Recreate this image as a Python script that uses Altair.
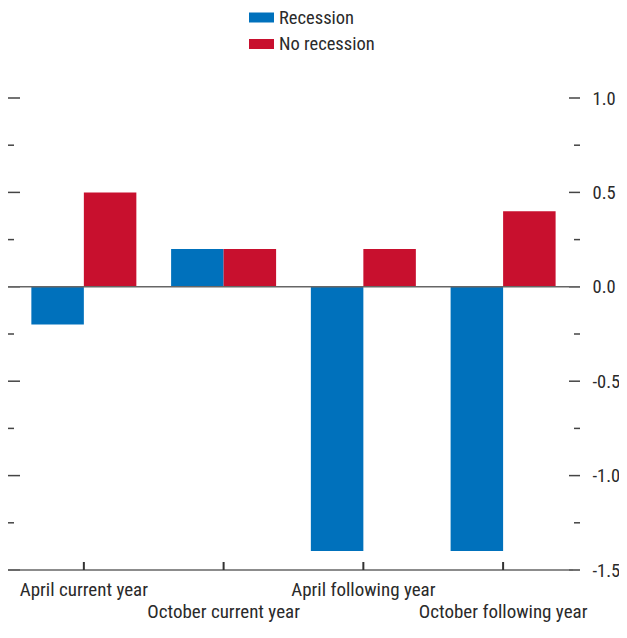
import altair as alt
import pandas as pd

categories = ["April current year", "October current year",
              "April following year", "October following year"]
series = ["Recession", "No recession"]
recession = [-0.2, 0.2, -1.4, -1.4]
no_recession = [0.5, 0.2, 0.2, 0.4]
major_ticks = [-1.5, -1.0, -0.5, 0.0, 0.5, 1.0]
minor_ticks = [-1.25, -0.75, -0.25, 0.25, 0.75]
zero_line = [0.0]
colors = ["#0071BC", "#C8102E"]

rows = []
for c, r, n in zip(categories, recession, no_recession):
    rows.append({"category": c, "series": series[0], "value": r})
    rows.append({"category": c, "series": series[1], "value": n})
bars_df = pd.DataFrame(rows)
cat_df = pd.DataFrame({"category": categories})
major_df = pd.DataFrame({"value": major_ticks})
minor_df = pd.DataFrame({"value": minor_ticks})
zero_df = pd.DataFrame({"value": zero_line})

W, H = 572, 472
FONT = "Liberation Sans Narrow, Arial Narrow, Roboto Condensed, Liberation Sans, sans-serif"
TICK = "#444444"
TXT = "#2a2a2a"

xscale = alt.Scale(domain=categories, paddingInner=0, paddingOuter=0.0465, align=0.46)
xaxis = alt.Axis(title=None, domain=False, ticks=False, grid=False, labelAngle=0,
                 labelFontSize=19, labelColor=TXT, labelPadding=10,
                 labelLineHeight=22, labelBaseline="top", labelLimit=400,
                 labelFont=FONT,
                 labelExpr="indexof(datum.label, 'October') == 0 ? ['', datum.label] : datum.label")
yscale = alt.Scale(domain=[-1.5, 1.0], nice=False, zero=False)
yaxis = alt.Axis(title=None, orient="right", values=major_ticks, ticks=False, domain=False,
                 grid=False, labelPadding=12, labelFontSize=18.5, labelColor=TXT,
                 labelFont=FONT,
                 labelExpr="datum.value < 0 ? '-' + format(-datum.value, '.1f') : format(datum.value, '.1f')")

Y = lambda: alt.Y("value:Q", scale=yscale, axis=yaxis)

bars = alt.Chart(bars_df).mark_bar().encode(
    x=alt.X("category:N", scale=xscale, axis=xaxis, sort=categories),
    xOffset=alt.XOffset("series:N", sort=series,
                        scale=alt.Scale(domain=series, paddingInner=0, paddingOuter=0.331)),
    y=Y(),
    color=alt.Color("series:N", sort=series,
                    scale=alt.Scale(domain=series, range=colors),
                    legend=alt.Legend(title=None, orient="none", legendX=241, legendY=-93,
                                      direction="vertical", symbolType="M-1,-0.4H1V0.4H-1Z",
                                      symbolSize=625, symbolStrokeWidth=0, labelFontSize=18.5,
                                      labelOffset=5, rowPadding=4.5, padding=0,
                                      labelFont=FONT, labelColor=TXT)),
)

left_major = alt.Chart(major_df).mark_rule(color=TICK, strokeWidth=1.5).encode(
    y=Y(), x=alt.value(0), x2=alt.value(12))
left_minor = alt.Chart(minor_df).mark_rule(color=TICK, strokeWidth=1.5).encode(
    y=Y(), x=alt.value(0), x2=alt.value(6))
right_major = alt.Chart(major_df).mark_rule(color=TICK, strokeWidth=1.5).encode(
    y=Y(), x=alt.value(561), x2=alt.value(572))
right_minor = alt.Chart(minor_df).mark_rule(color=TICK, strokeWidth=1.5).encode(
    y=Y(), x=alt.value(566), x2=alt.value(572))

zero = alt.Chart(zero_df).mark_rule(color="#666666", strokeWidth=1.5).encode(
    y=Y(), x=alt.value(0), x2=alt.value(W))
bottom = alt.Chart(zero_df).mark_rule(color="#666666", strokeWidth=1.5).encode(
    y=alt.value(H), x=alt.value(0), x2=alt.value(565))
xticks = alt.Chart(cat_df).mark_rule(color="#333333", strokeWidth=2).encode(
    x=alt.X("category:N", scale=xscale, axis=xaxis, sort=categories),
    y=alt.value(H), y2=alt.value(H - 8))

chart = alt.layer(
    bars, left_major, left_minor, right_major, right_minor, bottom, xticks, zero
).properties(
    width=W, height=H,
    autosize=alt.AutoSizeParams(type="none"),
    padding={"left": 0, "top": 90, "right": 39, "bottom": 55},
).configure(font=FONT).configure_view(stroke="transparent", strokeWidth=0)

chart.save("out.html", embed_options={"renderer": "svg", "actions": False})
